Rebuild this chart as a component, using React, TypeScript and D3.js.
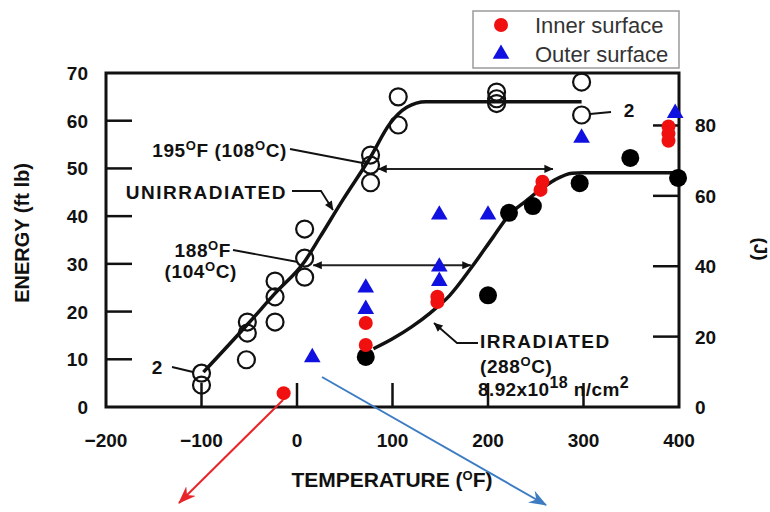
import React from 'react';
import * as d3 from 'd3';

// ---- axis ticks ----
const xTickValues = [-200, -100, 0, 100, 200, 300, 400];
const yTickValues = [0, 10, 20, 30, 40, 50, 60, 70];
const jTickValues = [0, 20, 40, 60, 80];
const FT_LB_TO_J = 1.3558;

// ---- unirradiated (open circles) ----
const unirrTemp = [-100, -100, -53, -52, -52, -23, -23, -23, 8, 8, 8, 77, 77, 77, 106, 106, 209, 209, 209, 298, 298];
const unirrEnergy = [4.6, 7.1, 9.9, 15.5, 17.8, 17.8, 23.1, 26.4, 27.2, 31.2, 37.3, 47, 50.7, 52.8, 59.1, 65, 63.6, 64.6, 66, 61.2, 68.1];

// ---- irradiated (filled black circles) ----
const irrTemp = [72, 200, 222, 247, 296, 349, 399];
const irrEnergy = [10.5, 23.4, 40.7, 42.1, 46.9, 52.2, 48];

// ---- inner surface (red) ----
const innerTemp = [-14, 72, 72, 147, 147, 255, 257, 389, 389, 389];
const innerEnergy = [2.9, 13, 17.6, 22, 23.1, 45.5, 47.2, 58.8, 57.3, 55.8];

// ---- outer surface (blue) ----
const outerTemp = [16, 72, 72, 149, 149, 149, 200, 298, 396];
const outerEnergy = [10.6, 20.7, 25.2, 26.6, 29.6, 40.5, 40.5, 56.6, 61.8];

// ---- fitted curves ----
const unirrFitTemp = [-98, -51, -23, 8, 24, 48, 77, 97, 115, 135, 160, 298];
const unirrFitEnergy = [7.3, 17.5, 23.8, 30.5, 35.6, 43.4, 52.4, 59.3, 62.8, 64, 64, 64];
const irrFitTemp = [80, 100, 120, 140, 160, 184, 205, 222, 240, 255, 270, 288, 300, 400];
const irrFitEnergy = [12.2, 14.3, 16.8, 19.8, 23.4, 29.6, 35.5, 40.2, 43.2, 45.6, 47.6, 49, 49.1, 49.1];

const W = 770;
const H = 512;
const FONT = "'Liberation Sans', Arial, Helvetica, sans-serif";

export default function App() {
  const x = d3.scaleLinear().domain([-200, 400]).range([106, 679]);
  const y = d3.scaleLinear().domain([0, 70]).range([407, 73]);
  const yJ = d3.scaleLinear().domain([0, 70 * FT_LB_TO_J]).range([407, 73]);

  const line = d3
    .line<[number, number]>()
    .x((d) => x(d[0]))
    .y((d) => y(d[1]))
    .curve(d3.curveMonotoneX);

  const unirrFit = line(unirrFitTemp.map((t, i) => [t, unirrFitEnergy[i]] as [number, number])) || '';
  const irrFit = line(irrFitTemp.map((t, i) => [t, irrFitEnergy[i]] as [number, number])) || '';

  const tri = d3.symbol().type(d3.symbolTriangle).size(120)() || '';

  const left = x(-200);
  const right = x(400);
  const top = y(70);
  const bottom = y(0);

  // superscript followed by normal text on the baseline
  const sup = (s: string, rest: string) => (
    <>
      <tspan dy={-7} fontSize={13}>{s}</tspan>
      <tspan dy={7}>{rest}</tspan>
    </>
  );

  const bold = { fontFamily: FONT, fontWeight: 700, fill: '#111' } as const;

  return (
    <svg
      width={W}
      height={H}
      style={{ position: 'absolute', left: 0, top: 0, background: '#fff' }}
    >
      <defs>
        <marker id="ah" viewBox="0 0 10 10" refX={9.5} refY={5} markerWidth={11} markerHeight={9} markerUnits="userSpaceOnUse" orient="auto-start-reverse">
          <path d="M0,0.5 L10,5 L0,9.5 z" fill="#111" />
        </marker>
        <marker id="ahRed" viewBox="0 0 16 12" refX={15} refY={6} markerWidth={18} markerHeight={14} markerUnits="userSpaceOnUse" orient="auto">
          <path d="M0,0 L16,6 L0,12 L5,6 z" fill="#e8262a" />
        </marker>
        <marker id="ahBlue" viewBox="0 0 16 12" refX={15} refY={6} markerWidth={18} markerHeight={14} markerUnits="userSpaceOnUse" orient="auto">
          <path d="M0,0 L16,6 L0,12 L5,6 z" fill="#3d7cc2" />
        </marker>
      </defs>

      {/* frame */}
      <rect x={left} y={top} width={right - left} height={bottom - top} fill="none" stroke="#111" strokeWidth={3} />

      {/* left ticks (inward) */}
      {yTickValues.filter((v) => v > 0 && v < 70).map((v) => (
        <line key={'yl' + v} x1={left} x2={left + 26} y1={y(v)} y2={y(v)} stroke="#111" strokeWidth={2.5} />
      ))}
      {/* right ticks (J) */}
      {jTickValues.filter((v) => v > 0).map((v) => (
        <line key={'yr' + v} x1={right} x2={right - 26} y1={yJ(v)} y2={yJ(v)} stroke="#111" strokeWidth={2.5} />
      ))}
      {/* bottom ticks */}
      {xTickValues.filter((v) => v > -200 && v < 400).map((v) => (
        <line key={'xb' + v} x1={x(v)} x2={x(v)} y1={bottom} y2={bottom - 24} stroke="#111" strokeWidth={2.5} />
      ))}

      {/* tick labels */}
      {yTickValues.map((v) => (
        <text key={'ylt' + v} x={88} y={y(v) + 7} textAnchor="end" fontSize={19} {...bold}>{v}</text>
      ))}
      {jTickValues.map((v) => (
        <text key={'yrt' + v} x={695} y={yJ(v) + 7} textAnchor="start" fontSize={19} {...bold}>{v}</text>
      ))}
      {xTickValues.map((v) => (
        <text key={'xt' + v} x={x(v)} y={447} textAnchor="middle" fontSize={19} {...bold}>
          {v < 0 ? '\u2212' + Math.abs(v) : v}
        </text>
      ))}

      {/* axis titles */}
      <text transform={`translate(29,233) rotate(-90)`} textAnchor="middle" fontSize={20} {...bold}>ENERGY (ft lb)</text>
      <text transform={`translate(754,249) rotate(90)`} textAnchor="middle" fontSize={19} {...bold}>(J)</text>
      <text x={392} y={487} textAnchor="middle" fontSize={21} {...bold}>
        TEMPERATURE ({sup('O', 'F)')}
      </text>

      {/* fitted curves */}
      <path d={unirrFit} fill="none" stroke="#111" strokeWidth={3.5} />
      <path d={irrFit} fill="none" stroke="#111" strokeWidth={3.5} />

      {/* shift arrows */}
      <line x1={x(17)} x2={x(182)} y1={y(29.7)} y2={y(29.7)} stroke="#222" strokeWidth={2} markerStart="url(#ah)" markerEnd="url(#ah)" />
      <line x1={x(85)} x2={x(268)} y1={y(49.9)} y2={y(49.9)} stroke="#222" strokeWidth={2} markerStart="url(#ah)" markerEnd="url(#ah)" />

      {/* leader lines */}
      <polyline points="290,149 368,164" fill="none" stroke="#111" strokeWidth={1.8} />
      <polyline points="292,191 321,191 333,210" fill="none" stroke="#111" strokeWidth={1.8} markerEnd="url(#ah)" />
      <polyline points="233,250 298,262" fill="none" stroke="#111" strokeWidth={1.8} />
      <polyline points="478,343 457,343 434,323" fill="none" stroke="#111" strokeWidth={1.8} markerEnd="url(#ah)" />
      <polyline points="172,367 193,372" fill="none" stroke="#111" strokeWidth={1.8} />
      <polyline points="590,114 611,112" fill="none" stroke="#111" strokeWidth={1.8} />

      {/* open circles */}
      {unirrTemp.map((t, i) => (
        <circle key={'u' + i} cx={x(t)} cy={y(unirrEnergy[i])} r={8.5} fill="none" stroke="#111" strokeWidth={2.2} />
      ))}
      {/* black circles */}
      {irrTemp.map((t, i) => (
        <circle key={'b' + i} cx={x(t)} cy={y(irrEnergy[i])} r={9} fill="#000" />
      ))}
      {/* blue triangles */}
      {outerTemp.map((t, i) => (
        <path key={'o' + i} d={tri} transform={`translate(${x(t)},${y(outerEnergy[i]) + 1})`} fill="#1010e0" />
      ))}
      {/* red circles */}
      {innerTemp.map((t, i) => (
        <circle key={'r' + i} cx={x(t)} cy={y(innerEnergy[i])} r={7} fill="#f01010" />
      ))}

      {/* annotation text */}
      <text x={287} y={157} textAnchor="end" fontSize={19} letterSpacing={0.6} {...bold}>
        195{sup('O', 'F (108')}{sup('O', 'C)')}
      </text>
      <text x={287} y={199} textAnchor="end" fontSize={19} letterSpacing={1.5} {...bold}>UNIRRADIATED</text>
      <text x={231} y={257} textAnchor="end" fontSize={19} letterSpacing={0.6} {...bold}>
        188{sup('O', 'F')}
      </text>
      <text x={237} y={278} textAnchor="end" fontSize={19} letterSpacing={0.6} {...bold}>
        (104{sup('O', 'C)')}
      </text>
      <text x={480} y={348} fontSize={19} letterSpacing={1.5} {...bold}>IRRADIATED</text>
      <text x={480} y={373} fontSize={19} letterSpacing={0.6} {...bold}>
        (288{sup('O', 'C)')}
      </text>
      <text x={478} y={396} fontSize={19} letterSpacing={0.4} {...bold}>
        8.92x10
        <tspan dy={-8} fontSize={16}>18</tspan>
        <tspan dy={8}> n/cm</tspan>
        <tspan dy={-8} fontSize={16}>2</tspan>
      </text>
      <text x={157} y={374} textAnchor="middle" fontSize={19} {...bold}>2</text>
      <text x={629} y={117} textAnchor="middle" fontSize={19} {...bold}>2</text>

      {/* red & blue pointer arrows */}
      <line x1={283} y1={400} x2={179} y2={503} stroke="#e8262a" strokeWidth={2} markerEnd="url(#ahRed)" />
      <line x1={322} y1={377} x2={546} y2={505} stroke="#3d7cc2" strokeWidth={2} markerEnd="url(#ahBlue)" />

      {/* legend */}
      <rect x={473} y={11} width={206} height={57} fill="#fff" stroke="#9a9a9a" strokeWidth={1.5} />
      <circle cx={501} cy={25} r={7} fill="#f01010" />
      <path d={tri} transform="translate(501,54)" fill="#1010e0" />
      <text x={535} y={33} fontSize={22} fontFamily={FONT} fill="#333">Inner surface</text>
      <text x={535} y={62} fontSize={22} fontFamily={FONT} fill="#333">Outer surface</text>
    </svg>
  );
}
